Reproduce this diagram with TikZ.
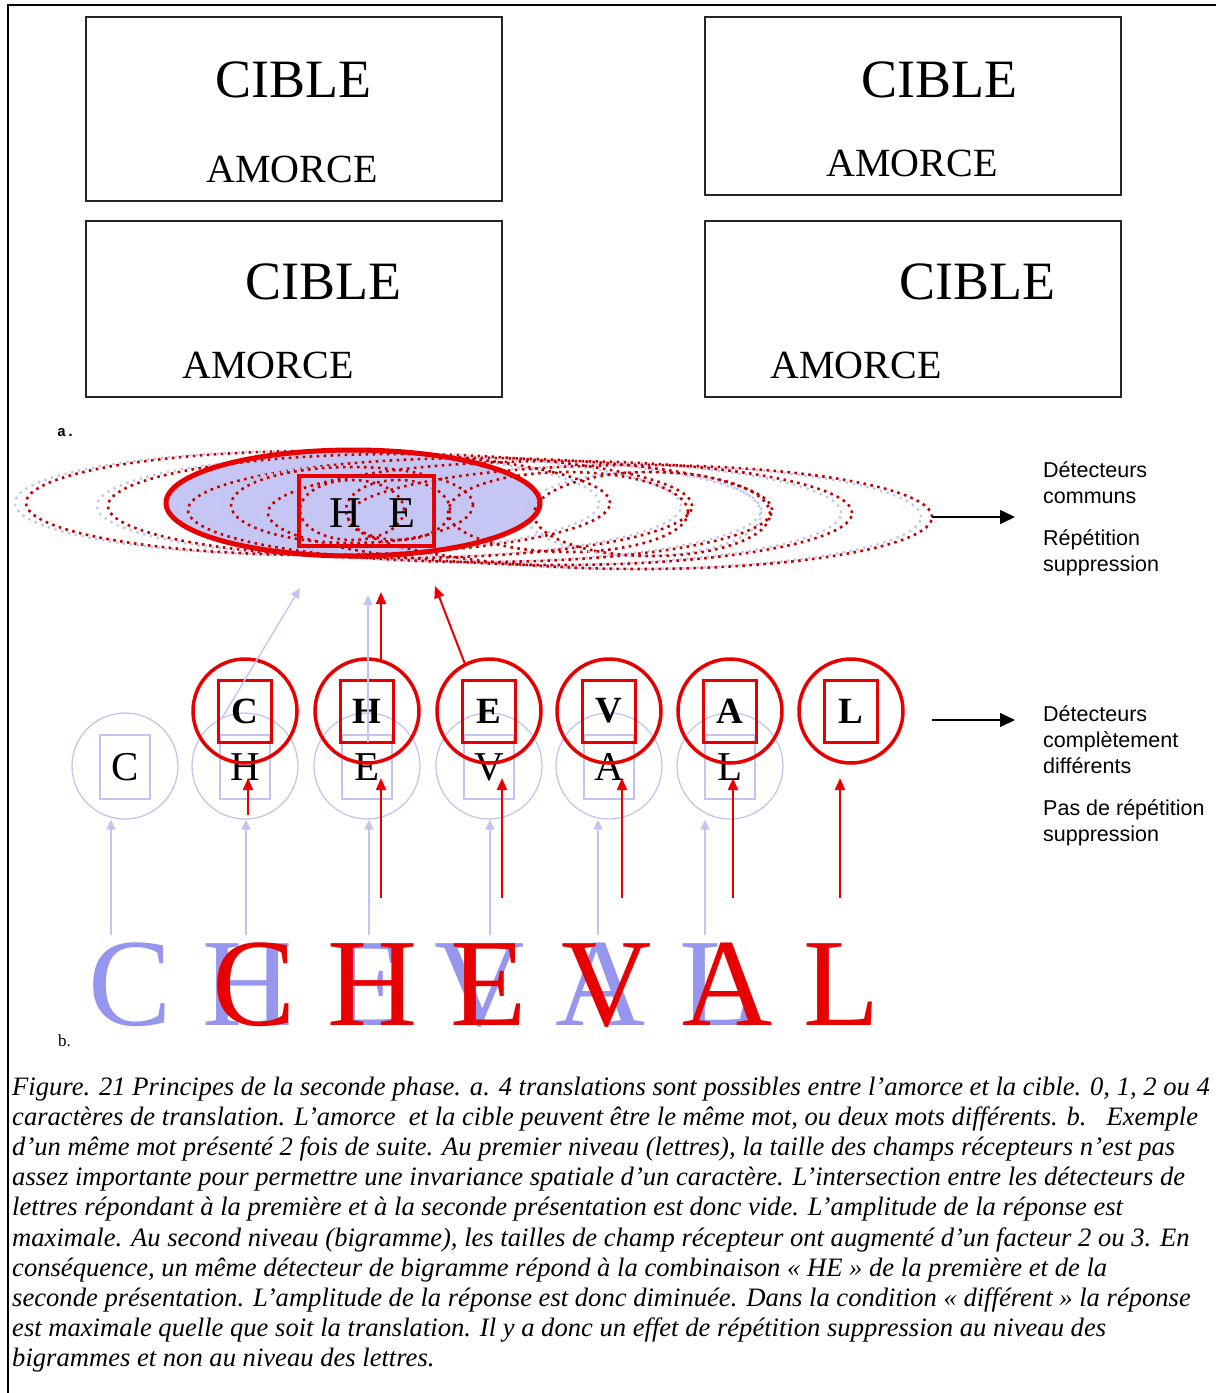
\documentclass[tikz,border=0pt]{standalone}
\usepackage{fontspec}
\setmainfont{Liberation Serif}
\newfontfamily\labelsans{Liberation Sans}
\newfontfamily\monofnt{Liberation Mono}
\usetikzlibrary{arrows.meta,calc}

\definecolor{detred}{RGB}{232,0,0}
\definecolor{lav}{RGB}{196,196,240}
\definecolor{lavfill}{RGB}{198,198,244}
\definecolor{lavletter}{RGB}{150,150,238}

\newcommand\fsz[1]{\fontsize{#1}{#1}\selectfont}

\begin{document}
\begin{tikzpicture}[x=1pt,y=-1pt,
  framebox/.style={draw=black!85,line width=2pt},
  cibleword/.style={anchor=base,inner sep=0,font=\fsz{54}},
  amorceword/.style={anchor=base,inner sep=0,font=\fsz{40}},
  reddots/.style={draw=detred!85!black,line width=2.6pt,dash pattern=on 2.6pt off 4.4pt},
  lavdots/.style={draw=lav,line width=2.4pt,dash pattern=on 2.4pt off 4.6pt},
  redcirc/.style={circle,draw=detred,line width=3.5pt,minimum size=104pt,inner sep=0},
  redsq/.style={rectangle,draw=detred,line width=3pt,minimum width=53pt,minimum height=62pt,inner sep=0,font=\bfseries\fsz{37}},
  lavcirc/.style={circle,draw=lav,line width=1.3pt,minimum size=106pt,inner sep=0},
  lavsq/.style={rectangle,draw=lav,line width=1.3pt,minimum width=50pt,minimum height=64pt,inner sep=0,font=\fsz{41}},
  bigred/.style={anchor=base,inner sep=0,text=detred,font=\fsz{125}},
  biglav/.style={anchor=base,inner sep=0,text=lavletter,font=\fsz{125}},
  lavarr/.style={draw=lav,line width=1.4pt,-{Triangle[length=10pt,width=9pt]}},
  redarr/.style={draw=detred,line width=2pt,-{Triangle[length=12pt,width=10pt]}},
  blackarr/.style={draw=black,line width=1.5pt,-{Triangle[length=15pt,width=14pt]}},
  sidetext/.style={anchor=north west,inner sep=0,align=left,font=\labelsans\fontsize{21.5}{26}\selectfont},
  capline/.style={anchor=base west,inner sep=0,font=\itshape\fsz{26.6}}
]
\useasboundingbox (0,0) rectangle (1216,1393);

% page frame (top and left rules)
\draw[line width=1.5pt] (8,1393) -- (8,5) -- (1216,5);

% ---- a. the four prime / target layouts
\node[framebox,minimum width=416pt,minimum height=184pt,anchor=north west] (boxA) at (85,16) {};
\node[framebox,minimum width=416pt,minimum height=178pt,anchor=north west] (boxB) at (704,16) {};
\node[framebox,minimum width=416pt,minimum height=176pt,anchor=north west] (boxC) at (85,220) {};
\node[framebox,minimum width=416pt,minimum height=176pt,anchor=north west] (boxD) at (704,220) {};

\node[cibleword] (cA) at (293,97) {CIBLE};
\node[amorceword] (aA) at (292,182) {AMORCE};
\node[cibleword] (cB) at (939,97) {CIBLE};
\node[amorceword] (aB) at (912,176) {AMORCE};
\node[cibleword] (cC) at (323,299) {CIBLE};
\node[amorceword] (aC) at (268,378) {AMORCE};
\node[cibleword] (cD) at (977,299) {CIBLE};
\node[amorceword] (aD) at (856,378) {AMORCE};

\node[anchor=base west,inner sep=0,font=\monofnt\bfseries\fsz{15}] (lblA) at (57,436) {a.};

% ---- b. bigram level: receptive fields
\fill[lavfill] (353,503) ellipse [x radius=187pt,y radius=53pt];
\foreach \cx/\cy in {307/503,389/506,469/510,549/513,629/517}
  \draw[lavdots] (\cx,\cy) ellipse [x radius=292pt,y radius=52pt];
\foreach \cx/\cy in {318/503,400/506,480/510,560/513,640/517}
  \draw[reddots] (\cx,\cy) ellipse [x radius=292pt,y radius=52pt];
\draw[lavdots] (342,505) ellipse [x radius=121pt,y radius=38pt];
\draw[reddots] (352,505) ellipse [x radius=121pt,y radius=38pt];
\draw[reddots] (568,512) ellipse [x radius=120pt,y radius=40pt];
\draw[lavdots] (643,514) ellipse [x radius=118pt,y radius=42pt];
\draw[reddots] (652,514) ellipse [x radius=118pt,y radius=42pt];
\draw[reddots] (352,510) ellipse [x radius=52pt,y radius=30pt];
\draw[reddots] (398,510) ellipse [x radius=52pt,y radius=30pt];
\draw[detred,line width=5pt] (353,503) ellipse [x radius=187pt,y radius=53pt];
\node[rectangle,draw=detred,line width=4pt,minimum width=135pt,minimum height=70pt,inner sep=0] (he) at (366,511) {};
\node[anchor=base,inner sep=0,font=\fsz{44}] (heH) at (345,527) {H};
\node[anchor=base,inner sep=0,font=\fsz{44}] (heE) at (402,527) {E};

\coordinate (bgEnd) at (932,517);
\coordinate (bgTip) at (1015,517);
\draw[blackarr] (bgEnd) -- (bgTip);
\node[sidetext] (txtCommon) at (1043,461) {Détecteurs\\communs};
\node[sidetext] (txtRep) at (1043,529) {Répétition\\suppression};

% ---- letter level, second presentation (lavender, shifted one letter)
\foreach \i/\x/\l in {1/125/C,2/245/H,3/367/E,4/489/V,5/609/A,6/730/L}{
  \node[lavcirc] (l\i) at (\x,766) {};
  \node[lavsq] (ls\i) at (\x,767) {\l};
}

% ---- letter level, first presentation (red)
\foreach \i/\x/\l in {1/245/C,2/367/H,3/489/E,4/609/V,5/730/A,6/851/L}{
  \node[redcirc] (r\i) at (\x,711) {};
  \node[redsq] (rs\i) at (\x,711) {\l};
}

\coordinate (lineEnd) at (932,720);
\coordinate (lineTip) at (1015,720);
\draw[blackarr] (lineEnd) -- (lineTip);
\node[sidetext] (txtDiff) at (1043,705) {Détecteurs\\complètement\\différents};
\node[sidetext] (txtNoRep) at (1043,799) {Pas de répétition\\suppression};

% ---- stimulus words
\foreach \i/\x/\l in {1/130/C,2/248/H,3/368/E,4/480/V,5/601/A,6/718/L}
  \node[biglav] (bl\i) at (\x,1025) {\l};
\foreach \i/\x/\l in {1/254/C,2/373/H,3/489/E,4/607/V,5/728/A,6/842/L}
  \node[bigred] (br\i) at (\x,1025) {\l};

\node[anchor=base west,inner sep=0,font=\fsz{17}] (lblB) at (58,1046) {b.};

% ---- feed-forward connections
\coordinate (redLevel) at (0,778);
\foreach \i/\x in {2/381,3/502,4/622,5/733,6/840}{
  \coordinate (ra\i) at (\x,898);
  \draw[redarr] (ra\i) -- (ra\i |- redLevel);
}
\coordinate (ra1) at (248,815);
\draw[redarr] (ra1) -- (ra1 |- redLevel);

\foreach \i/\x in {1/111,2/246,3/369,4/490,5/598,6/705}{
  \coordinate (la\i) at (\x,935);
  \draw[lavarr] (la\i) -- (la\i |- l\i.south);
}

\coordinate (upLavA) at (300,588);
\coordinate (upLavB) at (368,595);
\coordinate (upRedA) at (381,592);
\coordinate (upRedB) at (435,586);
\draw[lavarr] (222,718) -- (upLavA);
\draw[lavarr] (368,742) -- (upLavB);
\draw[redarr] (381,661) -- (upRedA);
\draw[redarr] (r3.117) -- (upRedB);

% ---- caption
\node[capline] (cap1) at (12,1095) {Figure. 21 Principes de la seconde phase. a. 4 translations sont possibles entre l’amorce et la cible. 0, 1, 2 ou 4};
\node[capline] (cap2) at (12,1125) {caractères de translation. L’amorce\ \ et la cible peuvent être le même mot, ou deux mots différents. b.\ \ \ Exemple};
\node[capline] (cap3) at (12,1155) {d’un même mot présenté 2 fois de suite. Au premier niveau (lettres), la taille des champs récepteurs n’est pas};
\node[capline] (cap4) at (12,1185) {assez importante pour permettre une invariance spatiale d’un caractère. L’intersection entre les détecteurs de};
\node[capline] (cap5) at (12,1215) {lettres répondant à la première et à la seconde présentation est donc vide. L’amplitude de la réponse est};
\node[capline] (cap6) at (12,1246) {maximale. Au second niveau (bigramme), les tailles de champ récepteur ont augmenté d’un facteur 2 ou 3. En};
\node[capline] (cap7) at (12,1276) {conséquence, un même détecteur de bigramme répond à la combinaison «~HE~» de la première et de la};
\node[capline] (cap8) at (12,1306) {seconde présentation. L’amplitude de la réponse est donc diminuée. Dans la condition «~différent~» la réponse};
\node[capline] (cap9) at (12,1336) {est maximale quelle que soit la translation. Il y a donc un effet de répétition suppression au niveau des};
\node[capline] (cap10) at (12,1366) {bigrammes et non au niveau des lettres.};
\end{tikzpicture}
\end{document}
